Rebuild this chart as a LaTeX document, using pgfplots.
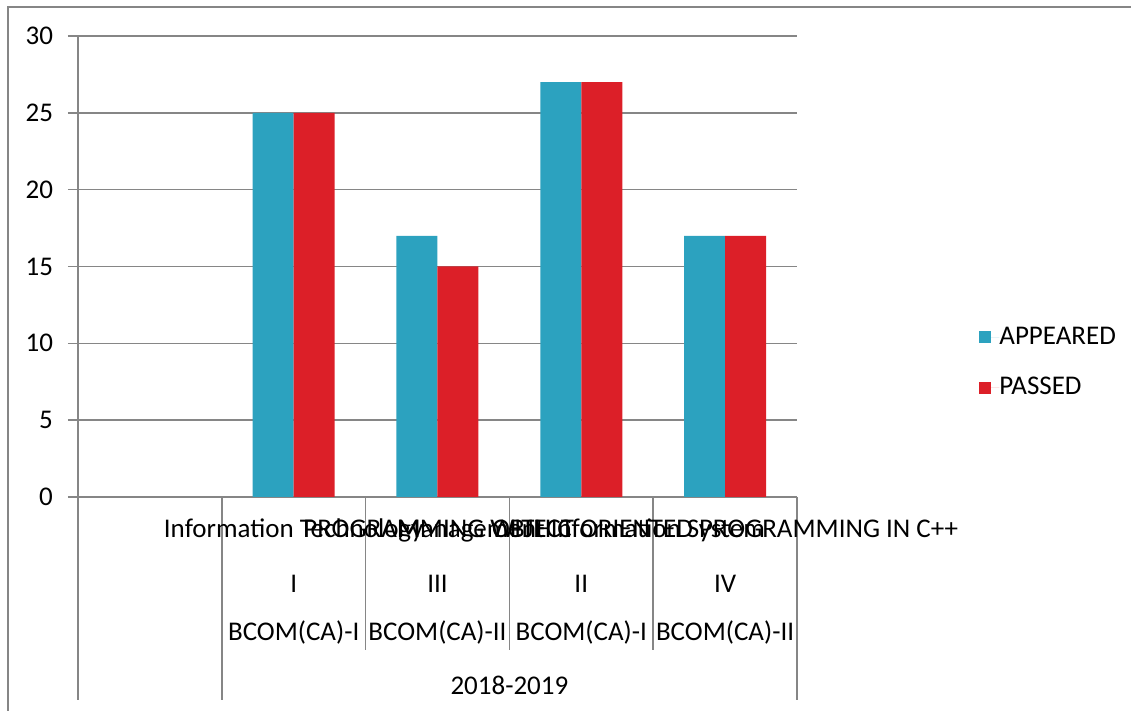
\documentclass[border=0pt]{standalone}
\usepackage{fontspec}
\setmainfont{Carlito}
\usepackage{pgfplots}
\pgfplotsset{compat=1.18}
\definecolor{appeared}{RGB}{44,162,191}
\definecolor{passed}{RGB}{220,31,40}
\definecolor{axgray}{RGB}{134,134,134}

\begin{document}
\begin{tikzpicture}
\begin{axis}[
    at={(0,0)}, anchor=south west,
    scale only axis,
    width=359.5pt, height=230.5pt,
    xmin=-0.5, xmax=4.5,
    ymin=0, ymax=30,
    ytick={0,5,...,30},
    xtick=\empty,
    axis lines*=left,
    axis line style={axgray, line width=0.75pt},
    ymajorgrids,
    grid style={axgray, line width=0.75pt},
    tick style={axgray, line width=0.75pt},
    tick align=outside,
    major tick length=5pt,
    /pgf/number format/assume math mode=true,
    yticklabel style={font=\fontsize{13.5}{16}\selectfont, xshift=-4pt},
    ybar=0pt, bar width=20.5pt,
    clip=false,
    legend cell align=left,
    legend style={draw=none, fill=none, inner sep=0pt,
        nodes={inner sep=0pt},
        at={(1,0.292)}, anchor=west, xshift=91pt,
        row sep=15pt, font=\fontsize{13.5}{16}\selectfont},
    legend image code/.code={\path (0pt,0pt) -- (10pt,0pt);
        \fill[#1,draw=none] (0pt,-3pt) rectangle (6pt,3pt);},
]
\addplot[fill=appeared, draw=none] coordinates {(1,25) (2,17) (3,27) (4,17)};
\addplot[fill=passed, draw=none] coordinates {(1,25) (2,15) (3,27) (4,17)};
\legend{APPEARED, PASSED}

% category separators below the axis
\draw[axgray, line width=0.75pt] (axis cs:-0.5,0) -- ([yshift=-101.5pt]axis cs:-0.5,0);
\draw[axgray, line width=0.75pt] (axis cs:0.5,0) -- ([yshift=-101.5pt]axis cs:0.5,0);
\draw[axgray, line width=0.75pt] (axis cs:1.5,0) -- ([yshift=-76.5pt]axis cs:1.5,0);
\draw[axgray, line width=0.75pt] (axis cs:2.5,0) -- ([yshift=-76.5pt]axis cs:2.5,0);
\draw[axgray, line width=0.75pt] (axis cs:3.5,0) -- ([yshift=-76.5pt]axis cs:3.5,0);
\draw[axgray, line width=0.75pt] (axis cs:4.5,0) -- ([yshift=-101.5pt]axis cs:4.5,0);

\begin{scope}[every node/.style={font=\fontsize{13.5}{16}\selectfont, inner sep=0pt, anchor=base}]
\node at (axis cs:1,0) [yshift=-20.5pt] {Information Technology};
\node at (axis cs:2,0) [yshift=-20.5pt] {PROGRAMMING WITH C};
\node at (axis cs:3,0) [yshift=-20.5pt] {Management Information System};
\node at (axis cs:4,0) [yshift=-20.5pt] {OBJECT ORIENTED PROGRAMMING IN C++};
\node at (axis cs:1,0) [yshift=-48pt] {I};
\node at (axis cs:2,0) [yshift=-48pt] {III};
\node at (axis cs:3,0) [yshift=-48pt] {II};
\node at (axis cs:4,0) [yshift=-48pt] {IV};
\node at (axis cs:1,0) [yshift=-72pt] {BCOM(CA)-I};
\node at (axis cs:2,0) [yshift=-72pt] {BCOM(CA)-II};
\node at (axis cs:3,0) [yshift=-72pt] {BCOM(CA)-I};
\node at (axis cs:4,0) [yshift=-72pt] {BCOM(CA)-II};
\node at (axis cs:2.5,0) [yshift=-99pt] {2018-2019};
\end{scope}
\end{axis}
% outer chart frame
\draw[axgray, line width=0.75pt] (-35pt,-120pt) rectangle (540pt,245pt);
\pgfresetboundingbox
\path[use as bounding box] (-39pt,-107pt) rectangle (526.5pt,248.5pt);
\end{tikzpicture}
\end{document}
